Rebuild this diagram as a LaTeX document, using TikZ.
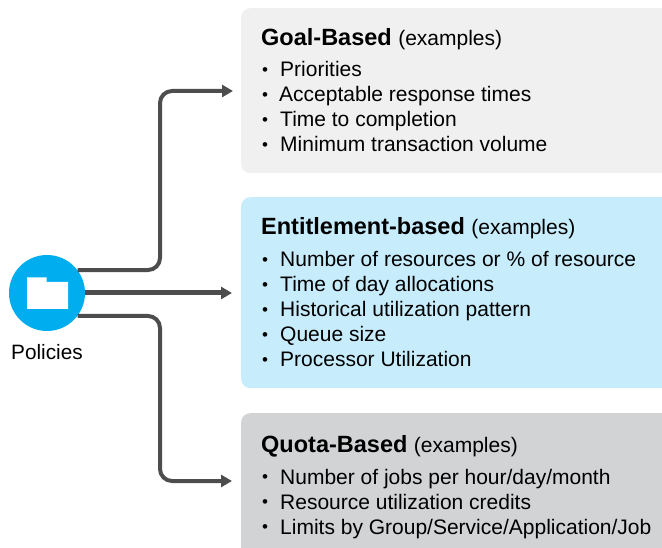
\documentclass[tikz,border=0pt]{standalone}
\usepackage{fontspec}
\setmainfont{Liberation Sans}
\usepackage{xcolor}
\usepackage{tikz}
\usetikzlibrary{positioning,calc,arrows.meta}

\definecolor{goalgray}{HTML}{F0F0F0}
\definecolor{entblue}{HTML}{C7EDFC}
\definecolor{quotagray}{HTML}{D1D3D4}
\definecolor{policyblue}{HTML}{00AEEF}
\definecolor{arrowgray}{HTML}{4D4D4D}

\tikzset{
    panel/.style={inner sep=0pt, rounded corners=9pt, anchor=north west},
    headtext/.style={anchor=base west, inner sep=0pt, font=\fontsize{23.5}{26}\selectfont},
    itemtext/.style={anchor=base west, inner sep=0pt, font=\fontsize{21}{24}\selectfont},
    dottext/.style={anchor=base west, inner sep=0pt, yshift=1.5pt, font=\fontsize{17}{24}\selectfont},
    flow/.style={draw=arrowgray, line width=4pt, rounded corners=12pt, -{Triangle[length=11pt,width=12pt]}}
}

\begin{document}
\begin{tikzpicture}[x=1pt,y=-1pt]
    \useasboundingbox (0,0) rectangle (662,548);
    \clip (0,0) rectangle (662,548);

    % Panels
    \node[panel, fill=goalgray, minimum width=440pt, minimum height=165pt] (goal) at (241,8) {};
    \node[panel, fill=entblue, minimum width=440pt, minimum height=191pt] (entitlement) at (241,197) {};
    \node[panel, fill=quotagray, minimum width=440pt, minimum height=160pt] (quota) at (241,413) {};

    % Goal-Based
    \node[headtext] (goalhead) at (261,46) {\textbf{Goal-Based} {\fontsize{21}{24}\selectfont (examples)}};
    \foreach \ypos/\xpos/\itemlabel in {77/280/Priorities, 102/279/Acceptable response times, 127/280/Time to completion, 152/280/Minimum transaction volume} {
        \node[dottext] (goalb\ypos) at (262,\ypos) {•};
        \node[itemtext] (goali\ypos) at (\xpos,\ypos) {\itemlabel};
    }

    % Entitlement-based
    \node[headtext] (enthead) at (261,235) {\textbf{Entitlement-based} {\fontsize{21}{24}\selectfont (examples)}};
    \foreach \ypos/\itemlabel in {266.6/Number of resources or \% of resource, 291.6/Time of day allocations, 316.6/Historical utilization pattern, 341.6/Queue size, 366.6/Processor Utilization} {
        \node[dottext] (entb\ypos) at (262,\ypos) {•};
        \node[itemtext] (enti\ypos) at (280,\ypos) {\itemlabel};
    }

    % Quota-Based
    \node[headtext] (quotahead) at (261,452) {\textbf{Quota-Based} {\fontsize{21}{24}\selectfont (examples)}};
    \foreach \ypos/\itemlabel in {484/{Number of jobs per hour/day/month}, 509/{Resource utilization credits}, 534/{Limits by Group/Service/Application/Job}} {
        \node[dottext] (quotab\ypos) at (262,\ypos) {•};
        \node[itemtext] (quotai\ypos) at (280,\ypos) {\itemlabel};
    }

    % Policies
    \coordinate (goalbend) at (160,91);
    \coordinate (goaltip) at (233,91);
    \coordinate (enttip) at (232,293);
    \coordinate (quotabend) at (160,481);
    \coordinate (quotatip) at (232,481);
    \node[circle, fill=policyblue, minimum size=76pt, inner sep=0pt] (policies) at (47,293) {};
    \node[below=21pt of policies.south, anchor=center, font=\fontsize{20.8}{24}\selectfont] (policylabel) {Policies};
    \fill[white] (27,277.5) -- (46.5,277.5) -- (46.5,282) -- (68,282) -- (68,309) -- (27,309) -- cycle;

    % Connectors
    \draw[flow] (policies.37) -| (goalbend) -- (goaltip);
    \draw[flow, line width=5pt] (policies.east) -- (enttip);
    \draw[flow] (policies.-37) -| (quotabend) -- (quotatip);
\end{tikzpicture}
\end{document}
